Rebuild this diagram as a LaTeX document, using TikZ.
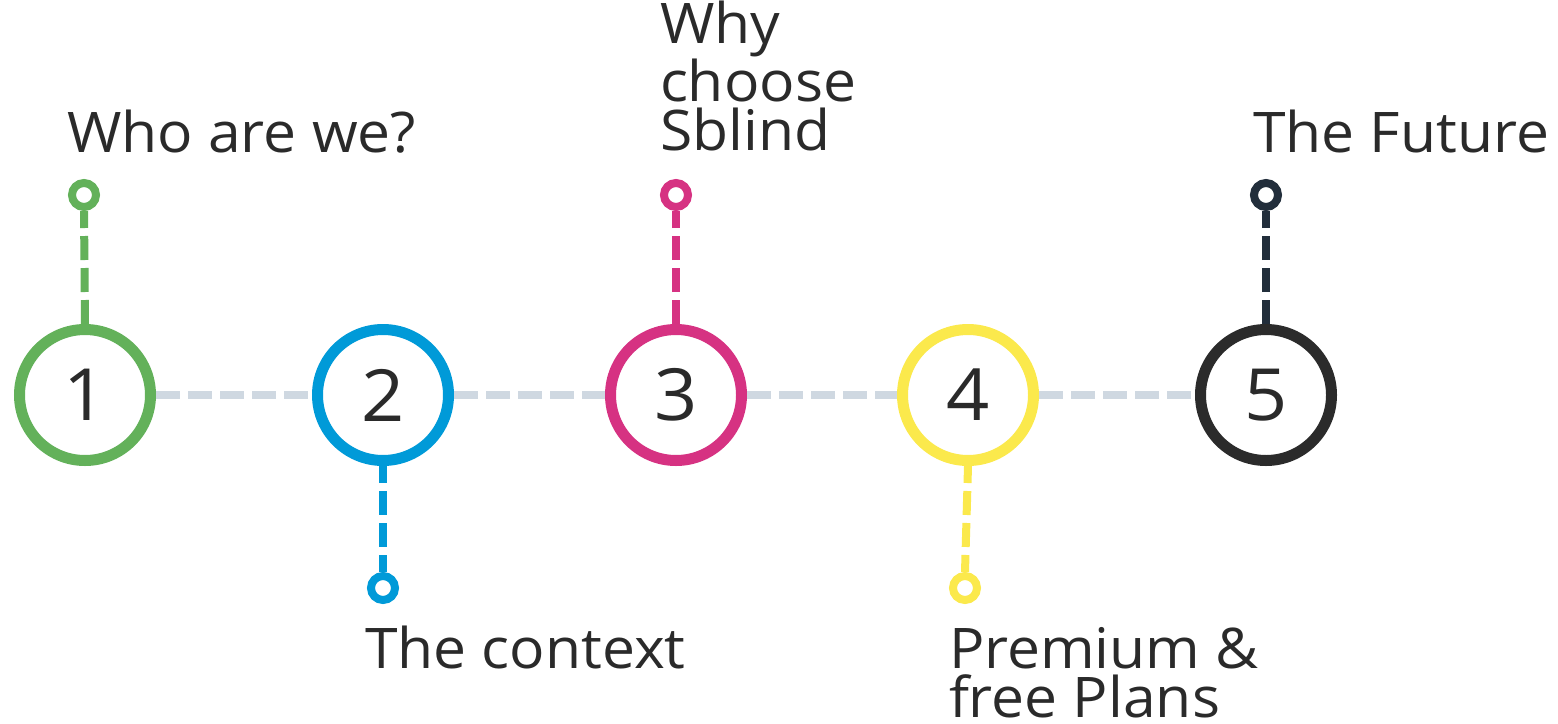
\documentclass[tikz,border=0pt]{standalone}
\usepackage{fontspec}
\setmainfont{Open Sans}[FakeStretch=1.05]
\definecolor{ink}{HTML}{2A2A2A}
\definecolor{trackgray}{HTML}{CFD8E1}
\definecolor{cgreen}{HTML}{63B15A}
\definecolor{cblue}{HTML}{009AD8}
\definecolor{cmagenta}{HTML}{D63282}
\definecolor{cyellow}{HTML}{FBE94C}
\definecolor{cblack}{HTML}{2B2B2B}
\definecolor{cnavy}{HTML}{222E3B}
\begin{document}
\begin{tikzpicture}[x=0.5pt,y=-0.5pt,
  stepring/.style={circle, draw=#1, line width=5.5pt, minimum size=65.5pt,
    inner sep=0pt, fill=white, text=ink, font=\fontsize{36}{36}\selectfont},
  pin/.style={circle, draw=#1, line width=4pt, minimum size=12pt,
    inner sep=0pt, fill=white},
  stem/.style={draw=#1, line width=4pt, dash pattern=on 12pt off 4pt},
  track/.style={draw=trackgray, line width=4pt, dash pattern=on 12pt off 4pt},
  caption/.style={inner sep=0pt, outer sep=0pt, text=ink, align=left,
    font=\fontsize{28}{24.5}\selectfont}]
\useasboundingbox (0,0) rectangle (1558,723);

% step rings
\node[stepring=cgreen]   (c1) at (85,395)   {1};
\node[stepring=cblue]    (c2) at (383,395)  {2};
\node[stepring=cmagenta] (c3) at (676,395)  {3};
\node[stepring=cyellow]  (c4) at (968,395)  {4};
\node[stepring=cblack]   (c5) at (1266,395) {5};

% pins at the ends of the stems
\node[pin=cgreen]   (p1) at (84,195)  {};
\node[pin=cblue]    (p2) at (383,588) {};
\node[pin=cmagenta] (p3) at (676,195) {};
\node[pin=cyellow]  (p4) at (965,588) {};
\node[pin=cnavy]    (p5) at (1266,195) {};

% horizontal track between the rings
\draw[track] (c1.east) -- (c2.west);
\draw[track] (c2.east) -- (c3.west);
\draw[track] (c3.east) -- (c4.west);
\draw[track] (c4.east) -- (c5.west);

% stems from rings to pins
\draw[stem=cgreen]   (c1.north) -- (p1.south);
\draw[stem=cblue, dash phase=3.5pt]   (c2.south) -- (p2.north);
\draw[stem=cmagenta] (c3.north) -- (p3.south);
\draw[stem=cyellow, dash phase=3.5pt] (c4.south) -- (p4.north);
\draw[stem=cnavy]    (c5.north) -- (p5.south);

% captions (multi-line ones are anchored at the baseline of their last line)
\node[caption, anchor=base west] (t1) at (67,152)   {Who are we?};
\node[caption, anchor=base west] (t2) at (365,668)  {The context};
\node[caption, anchor=base west] (t3) at (660,150)  {Why\\choose\\Sblind};
\node[caption, anchor=base west] (t4) at (949,717)  {Premium \&\\free Plans};
\node[caption, anchor=base west] (t5) at (1253,152) {The Future};
\end{tikzpicture}
\end{document}
